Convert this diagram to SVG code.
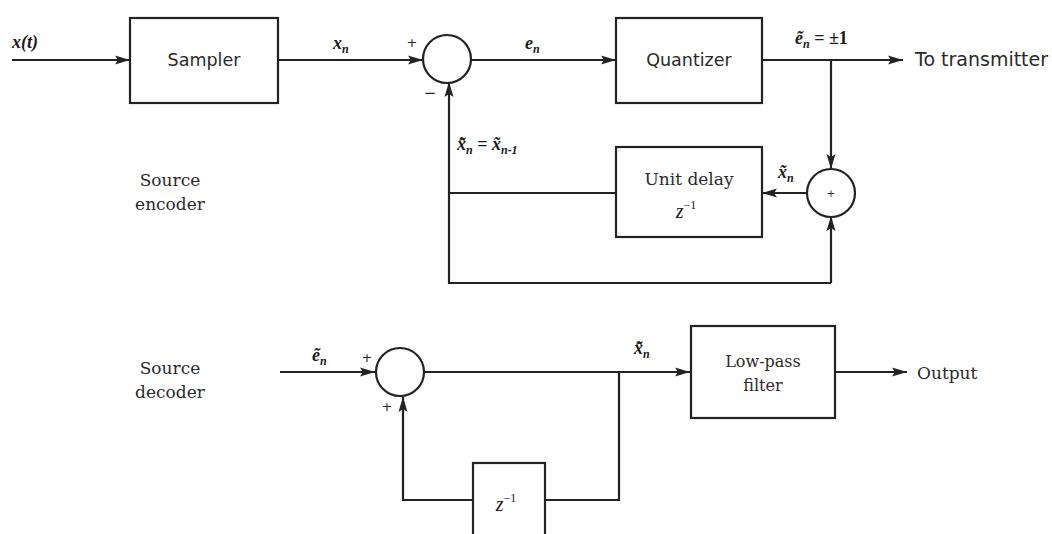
<svg xmlns="http://www.w3.org/2000/svg" width="1052" height="534" viewBox="0 0 1052 534">
<style>
.ln{fill:none;stroke:#222;stroke-width:2.2}
.bx{fill:#fff;stroke:#222;stroke-width:2.2}
.sans{font-family:"DejaVu Sans","Liberation Sans",sans-serif;fill:#2a2a2a}
.serif{font-family:"DejaVu Serif","Liberation Serif",serif;fill:#2a2a2a}
.math{font-family:"Liberation Serif","DejaVu Serif",serif;font-style:italic;font-weight:bold;fill:#1a1a1a}
.up{font-style:normal}
.sub{font-size:12px}
.sup{font-size:12px;font-style:normal}
</style>
<defs>
<marker id="ar" markerUnits="userSpaceOnUse" markerWidth="16" markerHeight="10" refX="15" refY="5" orient="auto">
<path d="M0,0.5 L15,5 L0,9.5 L3,5 z" fill="#222"/>
</marker>
</defs>
<rect width="1052" height="534" fill="#fff"/>

<g id="connectors">
<line class="ln" x1="12" y1="60" x2="130" y2="60" marker-end="url(#ar)"/>
<line class="ln" x1="278" y1="60" x2="423" y2="60" marker-end="url(#ar)"/>
<line class="ln" x1="471" y1="60" x2="616" y2="60" marker-end="url(#ar)"/>
<line class="ln" x1="762" y1="60" x2="903" y2="60" marker-end="url(#ar)"/>
<line class="ln" x1="831" y1="60" x2="831" y2="169" marker-end="url(#ar)"/>
<line class="ln" x1="807" y1="193" x2="762" y2="193" marker-end="url(#ar)"/>
<line class="ln" x1="616" y1="193" x2="449" y2="193"/>
<path class="ln" d="M831,283 L449,283 L449,82" marker-end="url(#ar)"/>
<line class="ln" x1="831" y1="283" x2="831" y2="216" marker-end="url(#ar)"/>
<line class="ln" x1="280" y1="372" x2="375" y2="372" marker-end="url(#ar)"/>
<line class="ln" x1="424" y1="372" x2="690" y2="372" marker-end="url(#ar)"/>
<path class="ln" d="M619,372 L619,500 L545,500"/>
<path class="ln" d="M473,500 L403,500 L403,397" marker-end="url(#ar)"/>
<line class="ln" x1="835" y1="372" x2="907" y2="372" marker-end="url(#ar)"/>
</g>

<g id="sampler">
<rect class="bx" x="130" y="18" width="148" height="85"/>
<text class="sans" x="204" y="66" font-size="17.5" text-anchor="middle">Sampler</text>
</g>
<g id="sum1">
<circle class="bx" cx="447" cy="59" r="24"/>
<text class="sans" x="412" y="47" font-size="13" text-anchor="middle">+</text>
<text class="sans" x="430" y="98" font-size="15" text-anchor="middle">−</text>
</g>
<g id="quantizer">
<rect class="bx" x="616" y="18" width="146" height="85"/>
<text class="sans" x="689" y="66" font-size="17.5" text-anchor="middle">Quantizer</text>
</g>
<g id="unit-delay">
<rect class="bx" x="616" y="147" width="146" height="90"/>
<text class="serif" x="689" y="185" font-size="17" text-anchor="middle">Unit delay</text>
<text class="math" x="686" y="218" font-size="20" font-weight="normal" style="font-weight:normal" text-anchor="middle">z<tspan class="sup" dy="-9">−1</tspan></text>
</g>
<g id="sum2">
<circle class="bx" cx="831" cy="193" r="24"/>
<text class="sans" x="831" y="197" font-size="10" text-anchor="middle">+</text>
</g>
<g id="sum3">
<circle class="bx" cx="400" cy="372" r="24"/>
<text class="sans" x="367" y="362" font-size="13" text-anchor="middle">+</text>
<text class="sans" x="387" y="411" font-size="13" text-anchor="middle">+</text>
</g>
<g id="delay2">
<rect class="bx" x="473" y="463" width="72" height="80"/>
<text class="math" x="506" y="511" font-size="20" style="font-weight:normal" text-anchor="middle">z<tspan class="sup" dy="-9">−1</tspan></text>
</g>
<g id="lowpass">
<rect class="bx" x="691" y="326" width="144" height="92"/>
<text class="serif" x="763" y="367" font-size="16" text-anchor="middle">Low-pass</text>
<text class="serif" x="763" y="391" font-size="16" text-anchor="middle">filter</text>
</g>

<g id="labels">
<text class="math" x="12" y="48" font-size="18">x(t)</text>
<text class="math" x="333" y="49" font-size="18">x<tspan class="sub" dy="4">n</tspan></text>
<text class="math" x="525" y="49" font-size="18">e<tspan class="sub" dy="4">n</tspan></text>
<text class="math" x="795" y="44" font-size="18">e&#x303;<tspan class="sub" dy="4">n</tspan><tspan class="up" dy="-4"> = ±1</tspan></text>
<text class="sans" x="915" y="66" font-size="19">To transmitter</text>
<text class="math" x="778" y="178" font-size="18">x&#x303;<tspan class="sub" dy="4">n</tspan></text>
<text class="math" x="457" y="150" font-size="18">x&#x303;&#x302;<tspan class="sub" dy="4">n</tspan><tspan class="up" dy="-4"> = </tspan>x&#x303;<tspan class="sub" dy="4">n-1</tspan></text>
<text class="serif" x="170" y="186" font-size="17" text-anchor="middle">Source</text>
<text class="serif" x="170" y="210" font-size="17" text-anchor="middle">encoder</text>
<text class="serif" x="170" y="374" font-size="17" text-anchor="middle">Source</text>
<text class="serif" x="170" y="398" font-size="17" text-anchor="middle">decoder</text>
<text class="math" x="312" y="361" font-size="18">e&#x303;<tspan class="sub" dy="4">n</tspan></text>
<text class="math" x="634" y="354" font-size="18">x&#x303;&#x302;<tspan class="sub" dy="4">n</tspan></text>
<text class="serif" x="917" y="379" font-size="17">Output</text>
</g>
</svg>
